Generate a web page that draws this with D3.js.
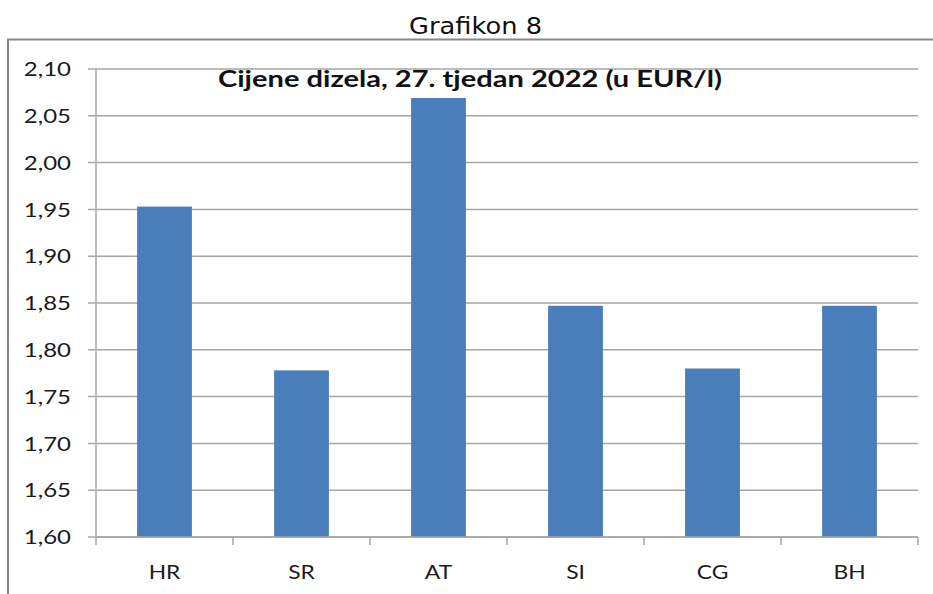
<!DOCTYPE html>
<html><head><meta charset="utf-8">
<script src="https://cdn.jsdelivr.net/npm/d3@7"></script>
<style>body{margin:0;background:#fff}svg{display:block}</style>
</head><body>
<script>
const categories = ["HR","SR","AT","SI","CG","BH"];
const values = [1.953, 1.778, 2.069, 1.847, 1.780, 1.847];
const yTicks = [1.60,1.65,1.70,1.75,1.80,1.85,1.90,1.95,2.00,2.05,2.10];
const pageTitle = "Grafikon 8";
const chartTitle = "Cijene dizela, 27. tjedan 2022 (u EUR/l)";

(function(){
const W = 933, H = 594;
const svg = d3.select("body").append("svg").attr("width", W).attr("height", H);
const FONT = "Lato, Carlito, Calibri, sans-serif";

// outer frame
svg.append("path").attr("d", `M8,${H} L8,39.5 L933,39.5`)
  .attr("fill","none").attr("stroke","#888").attr("stroke-width",2);

svg.append("text").attr("x", 475.5).attr("y", 34).attr("text-anchor","middle")
  .attr("font-family","DejaVu Sans, Verdana, sans-serif").attr("font-size",23.5)
  .attr("textLength",133).attr("lengthAdjust","spacingAndGlyphs")
  .attr("fill","#111").text(pageTitle);

const pL = 96, pR = 918, pT = 69, pB = 537;
const x = d3.scaleBand().domain(categories).range([pL, pR]).paddingInner(0.6).paddingOuter(0.3);
const xb = d3.scaleBand().domain(categories).range([pL, pR]);
const y = d3.scaleLinear().domain([1.60, 2.10]).range([pB, pT]);

// gridlines
svg.append("g").selectAll("line").data(yTicks).join("line")
  .attr("x1", pL - 8).attr("x2", pR).attr("y1", d => y(d)).attr("y2", d => y(d))
  .attr("stroke","#a6a6a6").attr("stroke-width",1.5);

// y axis labels
svg.append("g").selectAll("text").data(yTicks).join("text")
  .attr("transform", d => `translate(71,${y(d)}) scale(1.2,1)`)
  .attr("dy","0.36em").attr("text-anchor","end")
  .attr("font-family",FONT).attr("font-size",20).attr("fill","#1a1a1a")
  .text(d => d3.format(".2f")(d).replace(".", ","));

// bars
svg.append("g").selectAll("rect").data(values).join("rect")
  .attr("x", (d,i) => x(categories[i])).attr("width", x.bandwidth())
  .attr("y", d => y(d)).attr("height", d => y(1.60) - y(d))
  .attr("fill","#4a7ebb");

// axes lines
svg.append("line").attr("x1", pL).attr("x2", pL).attr("y1", pT).attr("y2", pB + 8)
  .attr("stroke","#a6a6a6").attr("stroke-width",1.5);
svg.append("line").attr("x1", pL).attr("x2", pR).attr("y1", pB).attr("y2", pB)
  .attr("stroke","#a6a6a6").attr("stroke-width",1.5);
svg.append("g").selectAll("line").data(categories).join("line")
  .attr("x1", d => xb(d) + xb.bandwidth()).attr("x2", d => xb(d) + xb.bandwidth())
  .attr("y1", pB).attr("y2", pB + 8)
  .attr("stroke","#a6a6a6").attr("stroke-width",1.5);

// x labels
svg.append("g").selectAll("text").data(categories).join("text")
  .attr("transform", d => `translate(${xb(d) + xb.bandwidth()/2},579) scale(1.2,1)`)
  .attr("text-anchor","middle")
  .attr("font-family",FONT).attr("font-size",19).attr("fill","#1a1a1a")
  .text(d => d);

// chart title
svg.append("text").attr("x", 470).attr("y", 87).attr("text-anchor","middle")
  .attr("font-family",FONT).attr("font-weight","bold")
  .attr("font-size",22).attr("fill","#111")
  .attr("textLength", 504).attr("lengthAdjust","spacingAndGlyphs")
  .text(chartTitle);
})();
</script>
</body></html>
